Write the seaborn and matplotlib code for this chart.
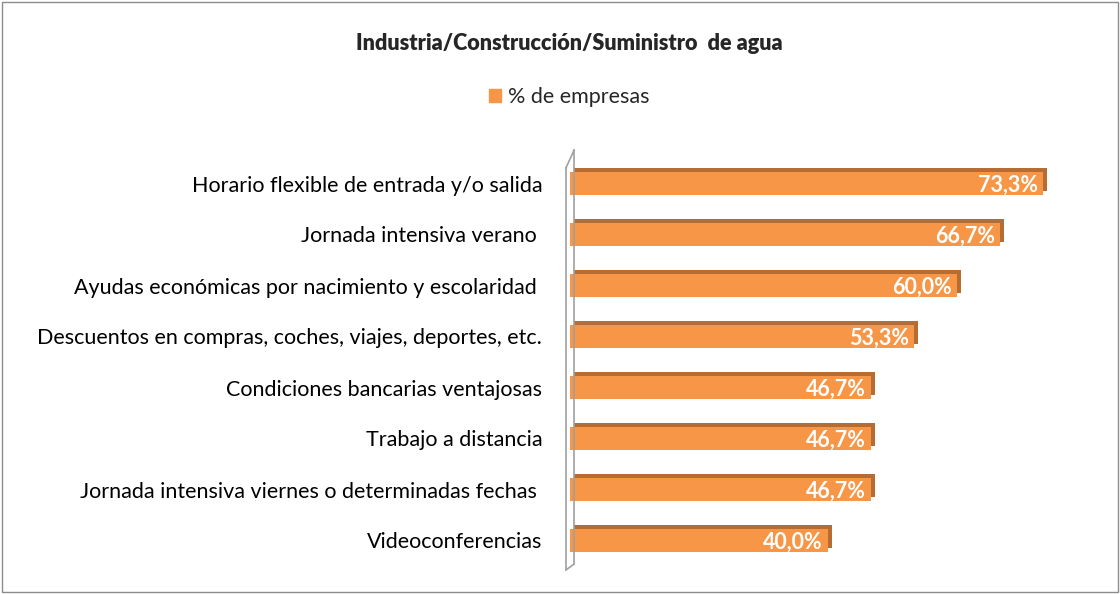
import pandas as pd
import numpy as np
import matplotlib.pyplot as plt
import matplotlib.transforms as mtransforms
from matplotlib.patches import Patch, Rectangle
import seaborn as sns

# Data
medidas = [
    "Horario flexible de entrada y/o salida",
    "Jornada intensiva verano ",
    "Ayudas económicas por nacimiento y escolaridad ",
    "Descuentos en compras, coches, viajes, deportes, etc.",
    "Condiciones bancarias ventajosas",
    "Trabajo a distancia",
    "Jornada intensiva viernes o determinadas fechas ",
    "Videoconferencias",
]
porcentajes = [73.3, 66.7, 60.0, 53.3, 46.7, 46.7, 46.7, 40.0]
etiquetas = ["73,3%", "66,7%", "60,0%", "53,3%", "46,7%", "46,7%", "46,7%", "40,0%"]

df = pd.DataFrame({"medida": medidas, "pct": porcentajes})

sns.set_style("white")
plt.rcParams["font.family"] = ["Lato", "DejaVu Sans"]

naranja = "#F79646"
sombra = "#B66D33"

fig = plt.figure(figsize=(11.2, 5.94), dpi=100)
ax = fig.add_axes([570 / 1120, 1 - 566 / 594, 520 / 1120, 408 / 594])

# depth (shadow) bars, shifted up/right
sns.barplot(data=df, x="pct", y="medida", color=sombra, width=0.44,
            saturation=1, linewidth=0, ax=ax)
shift = mtransforms.offset_copy(ax.transData, fig=fig, x=4, y=4, units="dots")
for p in ax.patches:
    p.set_transform(shift)
n_shadow = len(ax.patches)

# front bars
sns.barplot(data=df, x="pct", y="medida", color=naranja, width=0.44,
            saturation=1, linewidth=0, ax=ax)

for p, lab in zip(ax.patches[n_shadow:], etiquetas):
    ax.text(p.get_x() + p.get_width() - 0.8, p.get_y() + p.get_height() / 2 + 0.04,
            lab, color="white", fontsize=15.5, fontweight="bold",
            ha="right", va="center")

ax.set_xlim(0, 80.6)
ax.set_ylim(7.5, -0.5)
ax.set_xlabel("")
ax.set_ylabel("")
ax.set_xticks([])
ax.tick_params(axis="y", length=0, pad=20, labelsize=15.5, labelcolor="#000000")
for s in ["top", "right", "bottom", "left"]:
    ax.spines[s].set_visible(False)

# 3D wall on the left
wall_col = "#A0A0A0"
ax.plot([-0.008, -0.008], [-0.01, 0.975], color=wall_col, lw=1.2,
        transform=ax.transAxes, clip_on=False)
ax.plot([0.008, 0.008], [0.005, 1.02], color=wall_col, lw=1.2,
        transform=ax.transAxes, clip_on=False)
ax.plot([-0.008, 0.008], [0.975, 1.02], color=wall_col, lw=1.2,
        transform=ax.transAxes, clip_on=False)
ax.plot([-0.008, 0.008], [-0.01, 0.005], color=wall_col, lw=1.2,
        transform=ax.transAxes, clip_on=False)

# title and legend
fig.text(0.508, 1 - 44 / 594, "Industria/Construcción/Suministro  de agua",
         ha="center", va="center", fontsize=15.6, fontweight="heavy")
fig.legend(handles=[Patch(color=naranja, label="% de empresas")],
           loc="center", bbox_to_anchor=(0.508, 1 - 97 / 594), frameon=False,
           fontsize=15.5, handlelength=0.6, handleheight=0.6, handletextpad=0.3)

# outer border
fig.patches.append(Rectangle((0.002, 0.003), 0.996, 0.994, transform=fig.transFigure,
                             fill=False, edgecolor="#8C8C8C", lw=1))

plt.savefig("out.png", dpi=100)
plt.close()
